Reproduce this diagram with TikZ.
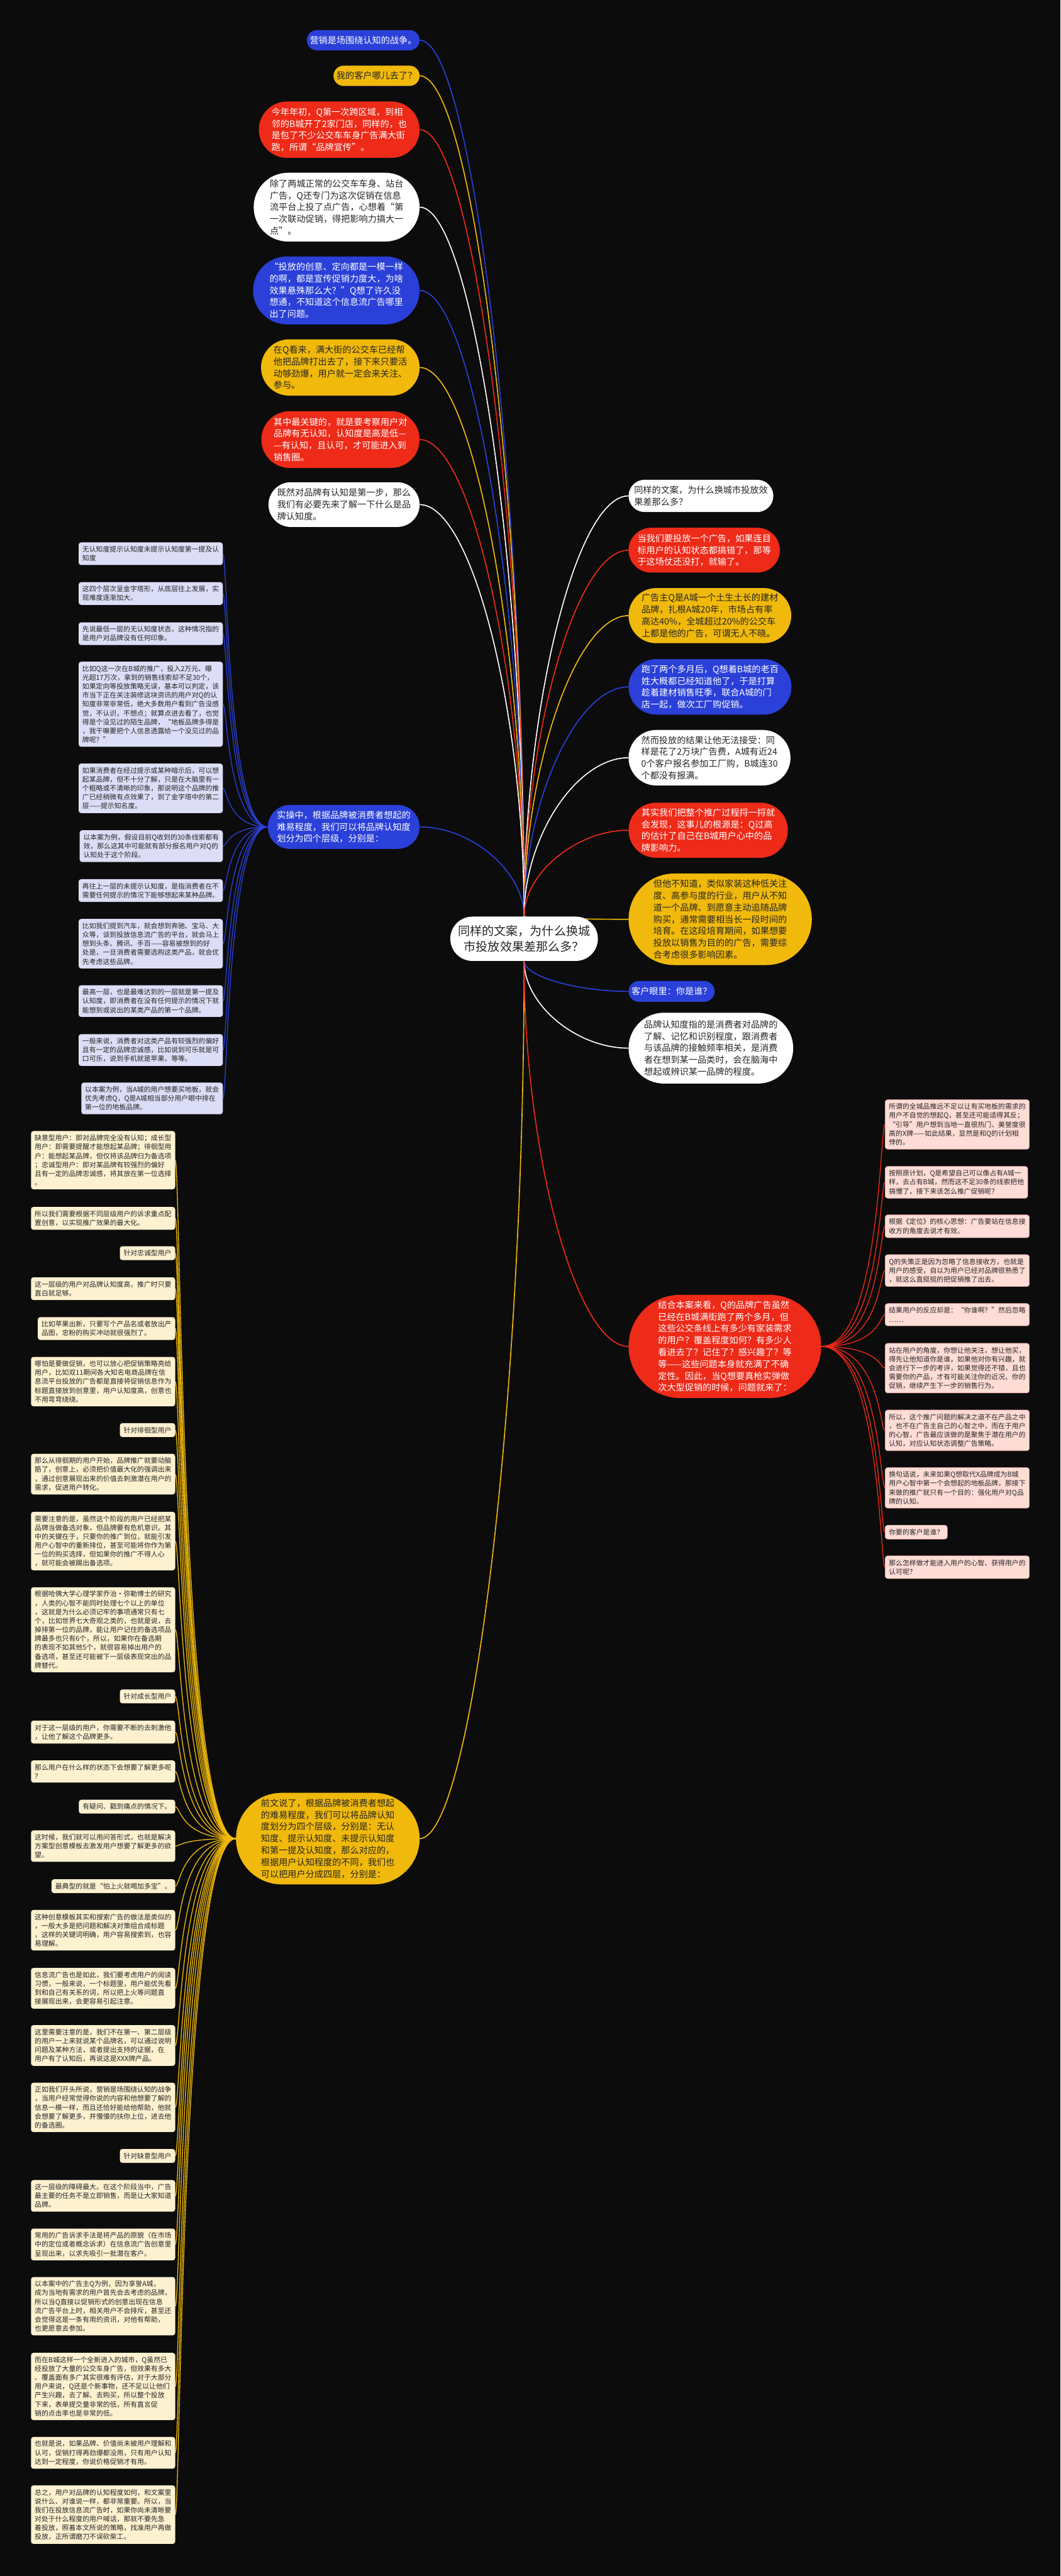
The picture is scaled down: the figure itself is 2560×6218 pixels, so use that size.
\documentclass[tikz,border=0pt]{standalone}
\usepackage{fontspec}
\setmainfont{Noto Sans CJK SC}
\usetikzlibrary{shapes.misc,calc}
\definecolor{bgc}{HTML}{0C0C0C}
\definecolor{cblue}{HTML}{2A40D8}
\definecolor{cred}{HTML}{EE2A18}
\definecolor{cyel}{HTML}{F0B90B}
\definecolor{ctxt}{HTML}{262626}
\definecolor{lblue}{HTML}{DCDDF6}
\definecolor{lpink}{HTML}{FFDCD6}
\definecolor{lcream}{HTML}{FDF1D0}
\pgfdeclarelayer{bg}
\pgfsetlayers{bg,main}
\tikzset{
  pill/.style={rounded rectangle, inner xsep=5pt, inner ysep=0pt, align=left,
    font=\fontsize{21.5}{28.5}\selectfont},
  pblue/.style={pill, fill=cblue, text=white},
  pred/.style={pill, fill=cred, text=white},
  pyel/.style={pill, fill=cyel, text=ctxt},
  pwhite/.style={pill, fill=white, text=ctxt},
  leaf/.style={rectangle, rounded corners=6pt, inner xsep=9pt, inner ysep=9pt,
    align=left, font=\fontsize{16.5}{21.5}\selectfont, text=ctxt},
  lfb/.style={leaf, fill=lblue, anchor=north east},
  lfp/.style={leaf, fill=lpink, draw=cred!35, line width=1pt, anchor=north west},
  lfy/.style={leaf, fill=lcream, anchor=north east},
  link/.style={line width=2.5pt},
  twig/.style={line width=2pt},
}
\newcommand{\branchlink}[3]{\draw[link,#1] let \p1=(#2), \p2=(#3) in (#2) .. controls ({0.5*\x1+0.5*\x2},\y1) and (\x2,{0.5*\y1+0.5*\y2}) .. (#3);}
\newcommand{\leaflink}[4]{\draw[twig,#1] let \p1=(#2), \p2=(#3) in (#2) .. controls (#4,\y1) and (#4,\y2) .. (#3);}
\begin{document}
\begin{tikzpicture}[x=1pt,y=1pt]
\begin{pgfonlayer}{bg}
\fill[bgc] (0,0) rectangle (2560,-6218);
\end{pgfonlayer}
\useasboundingbox (0,0) rectangle (2560,-6218);

% root
\node[pwhite, align=center, font=\fontsize{29}{37}\selectfont, minimum height=107pt, inner xsep=8pt] (root) at (1265,-2266) {同样的文案，为什么换城\\市投放效果差那么多？};

% upper-left branches
\node[pblue, anchor=east, minimum height=49pt] (n1) at (1013,-97) {营销是场围绕认知的战争。};
\node[pyel, anchor=east, minimum height=49pt] (n2) at (1013,-183) {我的客户哪儿去了？};
\node[pred, anchor=east, minimum height=136pt] (n3) at (1013,-313) {今年年初，Q第一次跨区域，到相\\邻的B城开了2家门店，同样的，也\\是包了不少公交车车身广告满大街\\跑，所谓“品牌宣传”。};
\node[pwhite, anchor=east, minimum height=166pt] (n4) at (1013,-500) {除了两城正常的公交车车身、站台\\广告，Q还专门为这次促销在信息\\流平台上投了点广告，心想着“第\\一次联动促销，得把影响力搞大一\\点”。};
\node[pblue, anchor=east, minimum height=164pt] (n5) at (1013,-701) {“投放的创意、定向都是一模一样\\的啊，都是宣传促销力度大，为啥\\效果悬殊那么大？”Q想了许久没\\想通，不知道这个信息流广告哪里\\出了问题。};
\node[pyel, anchor=east, minimum height=136pt] (n6) at (1013,-887) {在Q看来，满大街的公交车已经帮\\他把品牌打出去了，接下来只要活\\动够劲爆，用户就一定会来关注、\\参与。};
\node[pred, anchor=east, minimum height=137pt] (n7) at (1013,-1061) {其中最关键的，就是要考察用户对\\品牌有无认知，认知度是高是低—\\—有认知，且认可，才可能进入到\\销售圈。};
\node[pwhite, anchor=east, minimum height=108pt] (n8) at (1013,-1218) {既然对品牌有认知是第一步，那么\\我们有必要先来了解一下什么是品\\牌认知度。};
\node[pblue, anchor=east, minimum height=106pt] (s) at (1013,-1996) {实操中，根据品牌被消费者想起的\\难易程度，我们可以将品牌认知度\\划分为四个层级，分别是：};
\node[pyel, anchor=east, minimum height=221pt] (y0) at (1013,-4438) {前文说了，根据品牌被消费者想起\\的难易程度，我们可以将品牌认知\\度划分为四个层级，分别是：无认\\知度、提示认知度、未提示认知度\\和第一提及认知度，那么对应的，\\根据用户认知程度的不同，我们也\\可以把用户分成四层，分别是：};

% right branches
\node[pwhite, anchor=west, minimum height=78pt] (r1) at (1517,-1197) {同样的文案，为什么换城市投放效\\果差那么多？};
\node[pred, anchor=west, minimum height=108pt] (r2) at (1517,-1328) {当我们要投放一个广告，如果连目\\标用户的认知状态都搞错了，那等\\于这场仗还没打，就输了。};
\node[pyel, anchor=west, minimum height=133pt] (r3) at (1517,-1486) {广告主Q是A城一个土生土长的建材\\品牌，扎根A城20年，市场占有率\\高达40\%，全城超过20\%的公交车\\上都是他的广告，可谓无人不晓。};
\node[pblue, anchor=west, minimum height=134pt] (r4) at (1517,-1658) {跑了两个多月后，Q想着B城的老百\\姓大概都已经知道他了，于是打算\\趁着建材销售旺季，联合A城的门\\店一起，做次工厂购促销。};
\node[pwhite, anchor=west, minimum height=134pt] (r5) at (1517,-1829) {然而投放的结果让他无法接受：同\\样是花了2万块广告费，A城有近24\\0个客户报名参加工厂购，B城连30\\个都没有报满。};
\node[pred, anchor=west, minimum height=133pt] (r6) at (1517,-2004) {其实我们把整个推广过程捋一捋就\\会发现，这事儿的根源是：Q过高\\的估计了自己在B城用户心中的品\\牌影响力。};
\node[pyel, anchor=west, minimum height=221pt] (r7) at (1517,-2219) {但他不知道，类似家装这种低关注\\度、高参与度的行业，用户从不知\\道一个品牌、到愿意主动追随品牌\\购买，通常需要相当长一段时间的\\培育。在这段培育期间，如果想要\\投放以销售为目的的广告，需要综\\合考虑很多影响因素。};
\node[pblue, anchor=west, minimum height=50pt] (r8) at (1517,-2393) {客户眼里：你是谁？};
\node[pwhite, anchor=west, minimum height=171pt] (r9) at (1517,-2530) {品牌认知度指的是消费者对品牌的\\了解、记忆和识别程度，跟消费者\\与该品牌的接触频率相关，是消费\\者在想到某一品类时，会在脑海中\\想起或辨识某一品牌的程度。};
\node[pred, anchor=west, minimum height=249pt] (r10) at (1517,-3250) {结合本案来看，Q的品牌广告虽然\\已经在B城满街跑了两个多月，但\\这些公交条线上有多少有家装需求\\的用户？覆盖程度如何？有多少人\\看进去了？记住了？感兴趣了？等\\等——这些问题本身就充满了不确\\定性。因此，当Q想要真枪实弹做\\次大型促销的时候，问题就来了：};

% right leaves
\node[lfp] (l1) at (2136,-2654) {所谓的全城品推远不足以让有买地板的需求的\\用户不自觉的想起Q，甚至还可能适得其反；\\“引导”用户想到当地一直很热门、美誉度很\\高的X牌——如此结果，显然是和Q的计划相\\悖的。};
\node[lfp] (l2) at (2136,-2815) {按照原计划，Q是希望自己可以像占有A城一\\样，去占有B城，然而这不足30条的线索把他\\搞懵了，接下来该怎么推广促销呢？};
\node[lfp] (l3) at (2136,-2932) {根据《定位》的核心思想：广告要站在信息接\\收方的角度去说才有效。};
\node[lfp] (l4) at (2136,-3028) {Q的失策正是因为忽略了信息接收方，也就是\\用户的感受，自以为用户已经对品牌很熟悉了\\，就这么直挺挺的把促销推了出去。};
\node[lfp] (l5) at (2136,-3146) {结果用户的反应却是：“你谁啊？”然后忽略\\……};
\node[lfp] (l6) at (2136,-3242) {站在用户的角度，你想让他关注，想让他买，\\得先让他知道你是谁，如果他对你有兴趣，就\\会进行下一步的考评，如果觉得还不错，且也\\需要你的产品，才有可能关注你的近况、你的\\促销，继续产生下一步的销售行为。};
\node[lfp] (l7) at (2136,-3403) {所以，这个推广问题的解决之道不在产品之中\\，也不在广告主自己的心智之中，而在于用户\\的心智，广告最应该做的是聚焦于潜在用户的\\认知，对应认知状态调整广告策略。};
\node[lfp] (l8) at (2136,-3542) {换句话说，未来如果Q想取代X品牌成为B城\\用户心智中第一个会想起的地板品牌，那接下\\来做的推广就只有一个目的：强化用户对Q品\\牌的认知。};
\node[lfp] (l9) at (2136,-3681) {你要的客户是谁？};
\node[lfp] (l10) at (2136,-3755) {那么怎样做才能进入用户的心智、获得用户的\\认可呢？};

% blue leaves
\node[lfb] (b1) at (538,-1309) {无认知度提示认知度未提示认知度第一提及认\\知度};
\node[lfb] (b2) at (538,-1405) {这四个层次呈金字塔形，从底层往上发展，实\\现难度逐渐加大。};
\node[lfb] (b3) at (538,-1502) {先说最低一层的无认知度状态，这种情况指的\\是用户对品牌没有任何印象。};
\node[lfb] (b4) at (538,-1597) {比如Q这一次在B城的推广，投入2万元、曝\\光超17万次，拿到的销售线索却不足30个，\\如果定向等投放策略无误，基本可以判定，该\\市当下正在关注装修这块资讯的用户对Q的认\\知度非常非常低，绝大多数用户看到广告没感\\觉，不认识，不想点；就算点进去看了，也觉\\得是个没见过的陌生品牌，“地板品牌多得是\\，我干嘛要把个人信息透露给一个没见过的品\\牌呢？”};
\node[lfb] (b5) at (538,-1843) {如果消费者在经过提示或某种暗示后，可以想\\起某品牌，但不十分了解，只是在大脑里有一\\个粗略或不清晰的印象，那说明这个品牌的推\\广已经稍微有点效果了，到了金字塔中的第二\\层——提示知名度。};
\node[lfb] (b6) at (538,-2004) {以本案为例，假设目前Q收到的30条线索都有\\效，那么这其中可能就有部分报名用户对Q的\\认知处于这个阶段。};
\node[lfb] (b7) at (538,-2122) {再往上一层的未提示认知度，是指消费者在不\\需要任何提示的情况下能够想起来某种品牌。};
\node[lfb] (b8) at (538,-2218) {比如我们提到汽车，就会想到奔驰、宝马、大\\众等，谈到投放信息流广告的平台，就会马上\\想到头条、腾讯、手百——容易被想到的好\\处是，一旦消费者需要选购这类产品，就会优\\先考虑这些品牌。};
\node[lfb] (b9) at (538,-2378) {最高一层，也是最难达到的一层就是第一提及\\认知度，即消费者在没有任何提示的情况下就\\能想到或说出的某类产品的第一个品牌。};
\node[lfb] (b10) at (538,-2496) {一般来说，消费者对这类产品有较强烈的偏好\\且有一定的品牌忠诚感，比如说到可乐就是可\\口可乐，说到手机就是苹果，等等。};
\node[lfb] (b11) at (538,-2613) {以本案为例，当A城的用户想要买地板，就会\\优先考虑Q，Q是A城相当部分用户眼中排在\\第一位的地板品牌。};

% yellow leaves
\node[lfy] (y1) at (423,-2730) {缺意型用户：即对品牌完全没有认知；成长型\\用户：即需要提醒才能想起某品牌；徘徊型用\\户：能想起某品牌，但仅将该品牌归为备选项\\；忠诚型用户：即对某品牌有较强烈的偏好\\且有一定的品牌忠诚感，将其放在第一位选择\\。};
\node[lfy] (y2) at (423,-2913) {所以我们需要根据不同层级用户的诉求重点配\\置创意，以实现推广效果的最大化。};
\node[lfy] (y3) at (423,-3008) {针对忠诚型用户};
\node[lfy] (y4) at (423,-3083) {这一层级的用户对品牌认知度高，推广时只要\\直白就足够。};
\node[lfy] (y5) at (423,-3179) {比如苹果出新，只要写个产品名或者放出产\\品图，忠粉的购买冲动就很强烈了。};
\node[lfy] (y6) at (423,-3275) {哪怕是要做促销，也可以放心把促销策略亮给\\用户，比如双11期间各大知名电商品牌在信\\息流平台投放的广告都是直接将促销信息作为\\标题直接放到创意里，用户认知度高，创意也\\不用弯弯绕绕。};
\node[lfy] (y7) at (423,-3435) {针对徘徊型用户};
\node[lfy] (y8) at (423,-3509) {那么从徘徊期的用户开始，品牌推广就要动脑\\筋了，创意上，必须把价值最大化的强调出来\\，通过创意展现出来的价值去刺激潜在用户的\\需求，促进用户转化。};
\node[lfy] (y9) at (423,-3649) {需要注意的是，虽然这个阶段的用户已经把某\\品牌当做备选对象，但品牌要有危机意识。其\\中的关键在于，只要你的推广到位，就能引发\\用户心智中的重新排位，甚至可能将你作为第\\一位的购买选择，但如果你的推广不得人心\\，就可能会被踢出备选项。};
\node[lfy] (y10) at (423,-3831) {根据哈佛大学心理学家乔治·弥勒博士的研究\\，人类的心智不能同时处理七个以上的单位\\，这就是为什么必须记牢的事项通常只有七\\个，比如世界七大奇观之类的，也就是说，去\\掉排第一位的品牌，能让用户记住的备选项品\\牌最多也只有6个，所以，如果你在备选期\\的表现不如其他5个，就很容易掉出用户的\\备选项，甚至还可能被下一层级表现突出的品\\牌替代。};
\node[lfy] (y11) at (423,-4078) {针对成长型用户};
\node[lfy] (y12) at (423,-4153) {对于这一层级的用户，你需要不断的去刺激他\\，让他了解这个品牌更多。};
\node[lfy] (y13) at (423,-4249) {那么用户在什么样的状态下会想要了解更多呢\\？};
\node[lfy] (y14) at (423,-4344) {有疑问、戳到痛点的情况下。};
\node[lfy] (y15) at (423,-4418) {这时候，我们就可以用问答形式，也就是解决\\方案型创意模板去激发用户想要了解更多的欲\\望。};
\node[lfy] (y16) at (423,-4536) {最典型的就是“怕上火就喝加多宝”。};
\node[lfy] (y17) at (423,-4610) {这种创意模板其实和搜索广告的做法是类似的\\，一般大多是把问题和解决对策组合成标题\\，这样的关键词明确，用户容易搜索到，也容\\易理解。};
\node[lfy] (y18) at (423,-4750) {信息流广告也是如此，我们要考虑用户的阅读\\习惯，一般来说，一个标题里，用户能优先看\\到和自己有关系的词，所以把上火等问题直\\接展现出来，会更容易引起注意。};
\node[lfy] (y19) at (423,-4888) {这里需要注意的是，我们不在第一、第二层级\\的用户一上来就说某个品牌名，可以通过说明\\问题及某种方法，或者提出支持的证据，在\\用户有了认知后，再说这是XXX牌产品。};
\node[lfy] (y20) at (423,-5027) {正如我们开头所说，营销是场围绕认知的战争\\，当用户经常觉得你说的内容和他想要了解的\\信息一模一样，而且还恰好能给他帮助，他就\\会想要了解更多，并慢慢的扶你上位，进去他\\的备选圈。};
\node[lfy] (y21) at (423,-5187) {针对缺意型用户};
\node[lfy] (y22) at (423,-5262) {这一层级的障碍最大。在这个阶段当中，广告\\最主要的任务不是立即销售，而是让大家知道\\品牌。};
\node[lfy] (y23) at (423,-5379) {常用的广告诉求手法是将产品的原貌（在市场\\中的定位或者概念诉求）在信息流广告创意里\\呈现出来，以求先吸引一批潜在客户。};
\node[lfy] (y24) at (423,-5496) {以本案中的广告主Q为例，因为享誉A城，\\成为当地有需求的用户首先会去考虑的品牌，\\所以当Q直接以促销形式的创意出现在信息\\流广告平台上时，相关用户不会排斥，甚至还\\会觉得这是一条有用的资讯，对他有帮助，\\也更愿意去参加。};
\node[lfy] (y25) at (423,-5679) {而在B城这样一个全新进入的城市，Q虽然已\\经投放了大量的公交车身广告，但效果有多大\\、覆盖面有多广其实很难有评估，对于大部分\\用户来说，Q还是个新事物，还不足以让他们\\产生兴趣，去了解、去购买，所以整个投放\\下来，表单提交量非常的低，所有直言促\\销的点击率也是非常的低。};
\node[lfy] (y26) at (423,-5882) {也就是说，如果品牌、价值尚未被用户理解和\\认可，促销打得再劲爆都没用，只有用户认知\\达到一定程度，你说价格促销才有用。};
\node[lfy] (y27) at (423,-5999) {总之，用户对品牌的认知程度如何，和文案里\\说什么、对谁说一样，都非常重要。所以，当\\我们在投放信息流广告时，如果你尚未清晰要\\对处于什么程度的用户喊话，那就不要先急\\着投放，照着本文所说的策略，找准用户再做\\投放，正所谓磨刀不误砍柴工。};

\begin{pgfonlayer}{bg}
\branchlink{cblue}{n1.east}{root.north}
\branchlink{cyel}{n2.east}{root.north}
\branchlink{cred}{n3.east}{root.north}
\branchlink{white}{n4.east}{root.north}
\branchlink{cblue}{n5.east}{root.north}
\branchlink{cyel}{n6.east}{root.north}
\branchlink{cred}{n7.east}{root.north}
\branchlink{white}{n8.east}{root.north}
\branchlink{cblue}{s.east}{root.north}
\branchlink{cyel}{y0.east}{root.south}
\branchlink{white}{r1.west}{root.north}
\branchlink{cred}{r2.west}{root.north}
\branchlink{cyel}{r3.west}{root.north}
\branchlink{cblue}{r4.west}{root.north}
\branchlink{white}{r5.west}{root.north}
\branchlink{cred}{r6.west}{root.north}
\branchlink{cyel}{r7.west}{root.north}
\branchlink{cblue}{r8.west}{root.south}
\branchlink{white}{r9.west}{root.south}
\branchlink{cred}{r10.west}{root.south}
\foreach \i in {1,...,10} {\leaflink{cred}{r10.east}{l\i.west}{2124}}
\foreach \i in {1,...,11} {\leaflink{cblue}{s.west}{b\i.east}{549}}
\foreach \i in {1,...,27} {\leaflink{cyel}{y0.west}{y\i.east}{436}}
\end{pgfonlayer}
\end{tikzpicture}
\end{document}
